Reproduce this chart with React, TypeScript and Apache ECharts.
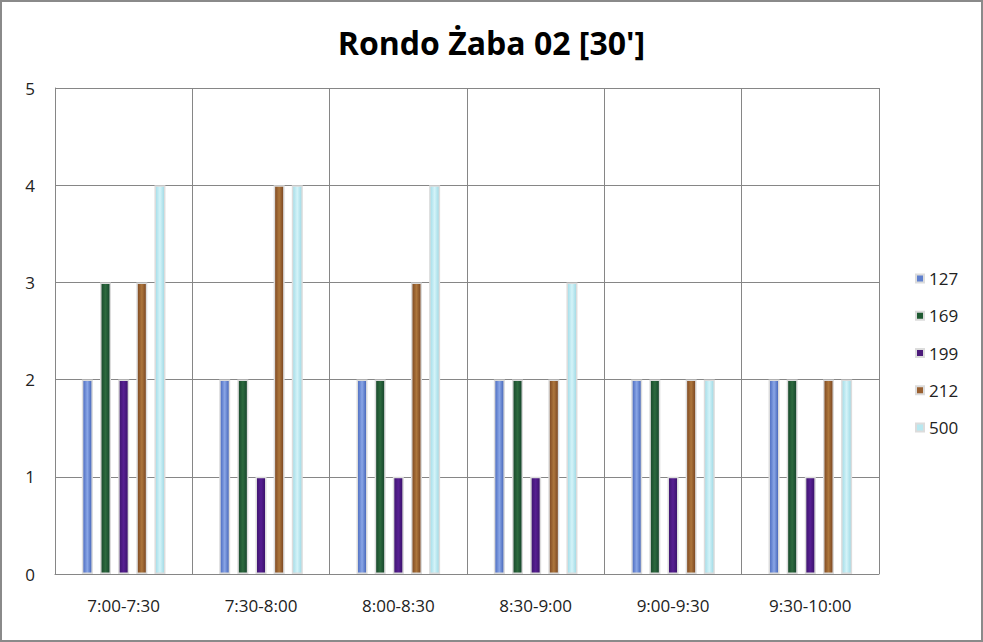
import React, { useEffect, useRef } from "react";
import * as echarts from "echarts";

const categories = ["7:00-7:30", "7:30-8:00", "8:00-8:30", "8:30-9:00", "9:00-9:30", "9:30-10:00"];
const seriesNames = ["127", "169", "199", "212", "500"];
const s127 = [2, 2, 2, 2, 2, 2];
const s169 = [3, 2, 2, 2, 2, 2];
const s199 = [2, 1, 1, 1, 1, 1];
const s212 = [3, 4, 3, 2, 2, 2];
const s500 = [4, 4, 4, 3, 2, 2];
const seriesData = [s127, s169, s199, s212, s500];

const FONT = "'Open Sans', sans-serif";

const fills = [
  ["#4566bd", "#8aa6e6", "#3d5eb4"],
  ["#17462a", "#2d6a3e", "#14412a"],
  ["#3b136c", "#571f92", "#371066"],
  ["#7a4520", "#ad763c", "#74401d"],
  ["#a0dce8", "#d4f3f8", "#9ad8e4"],
];
const legendColors = ["#5f80cf", "#1f5a32", "#4b1a7a", "#9a6030", "#b8e8f0"];

export default function App() {
  const ref = useRef<HTMLDivElement>(null);
  useEffect(() => {
    if (!ref.current) return;
    const chart = echarts.init(ref.current, null, { renderer: "svg" });
    const gray = "#868686";
    chart.setOption({
      animation: false,
      backgroundColor: "#ffffff",
      title: {
        text: "Rondo Żaba 02 [30']",
        left: "center",
        top: 21,
        textStyle: { fontFamily: FONT, fontSize: 32, fontWeight: "bold", color: "#000" },
      },
      legend: {
        orient: "vertical",
        left: 910,
        top: 265,
        itemWidth: 8,
        itemHeight: 8,
        itemGap: 20.25,
        icon: "rect",
        textStyle: { fontFamily: FONT, fontSize: 17, color: "#222" },
        data: seriesNames.map((n, i) => ({ name: n, itemStyle: { color: legendColors[i] } })),
      },
      grid: { left: 55, right: 104, top: 88, bottom: 68, containLabel: false },
      xAxis: {
        type: "category",
        data: categories,
        axisLine: { show: true, lineStyle: { color: gray } },
        axisTick: { show: false },
        splitLine: { show: true, lineStyle: { color: gray, width: 1 } },
        axisLabel: { margin: 23, fontFamily: FONT, fontSize: 17, color: "#222" },
      },
      yAxis: {
        type: "value",
        min: 0,
        max: 5,
        interval: 1,
        axisLine: { show: true, lineStyle: { color: gray } },
        axisTick: { show: false },
        splitLine: { show: true, lineStyle: { color: gray, width: 1 } },
        axisLabel: { margin: 20, fontFamily: FONT, fontSize: 17, color: "#222" },
      },
      graphic: [
        {
          type: "rect",
          shape: { x: 1, y: 1, width: 981, height: 640 },
          style: { fill: "none", stroke: "#8a8a8a", lineWidth: 2 },
          silent: true,
        },
      ],
      series: seriesData.map((d, i) => ({
        name: seriesNames[i],
        type: "bar",
        data: d,
        barWidth: 11,
        barGap: "65%",
        barCategoryGap: "40%",
        itemStyle: {
          color: new echarts.graphic.LinearGradient(0, 0, 1, 0, [
            { offset: 0, color: fills[i][0] },
            { offset: 0.5, color: fills[i][1] },
            { offset: 1, color: fills[i][2] },
          ]),
          borderColor: "#dcdcdc",
          borderWidth: 1.5,
        },
      })),
    });
    return () => chart.dispose();
  }, []);
  return (
    <div
      ref={ref}
      style={{ position: "fixed", left: 0, top: 0, width: 983, height: 642 }}
    />
  );
}
